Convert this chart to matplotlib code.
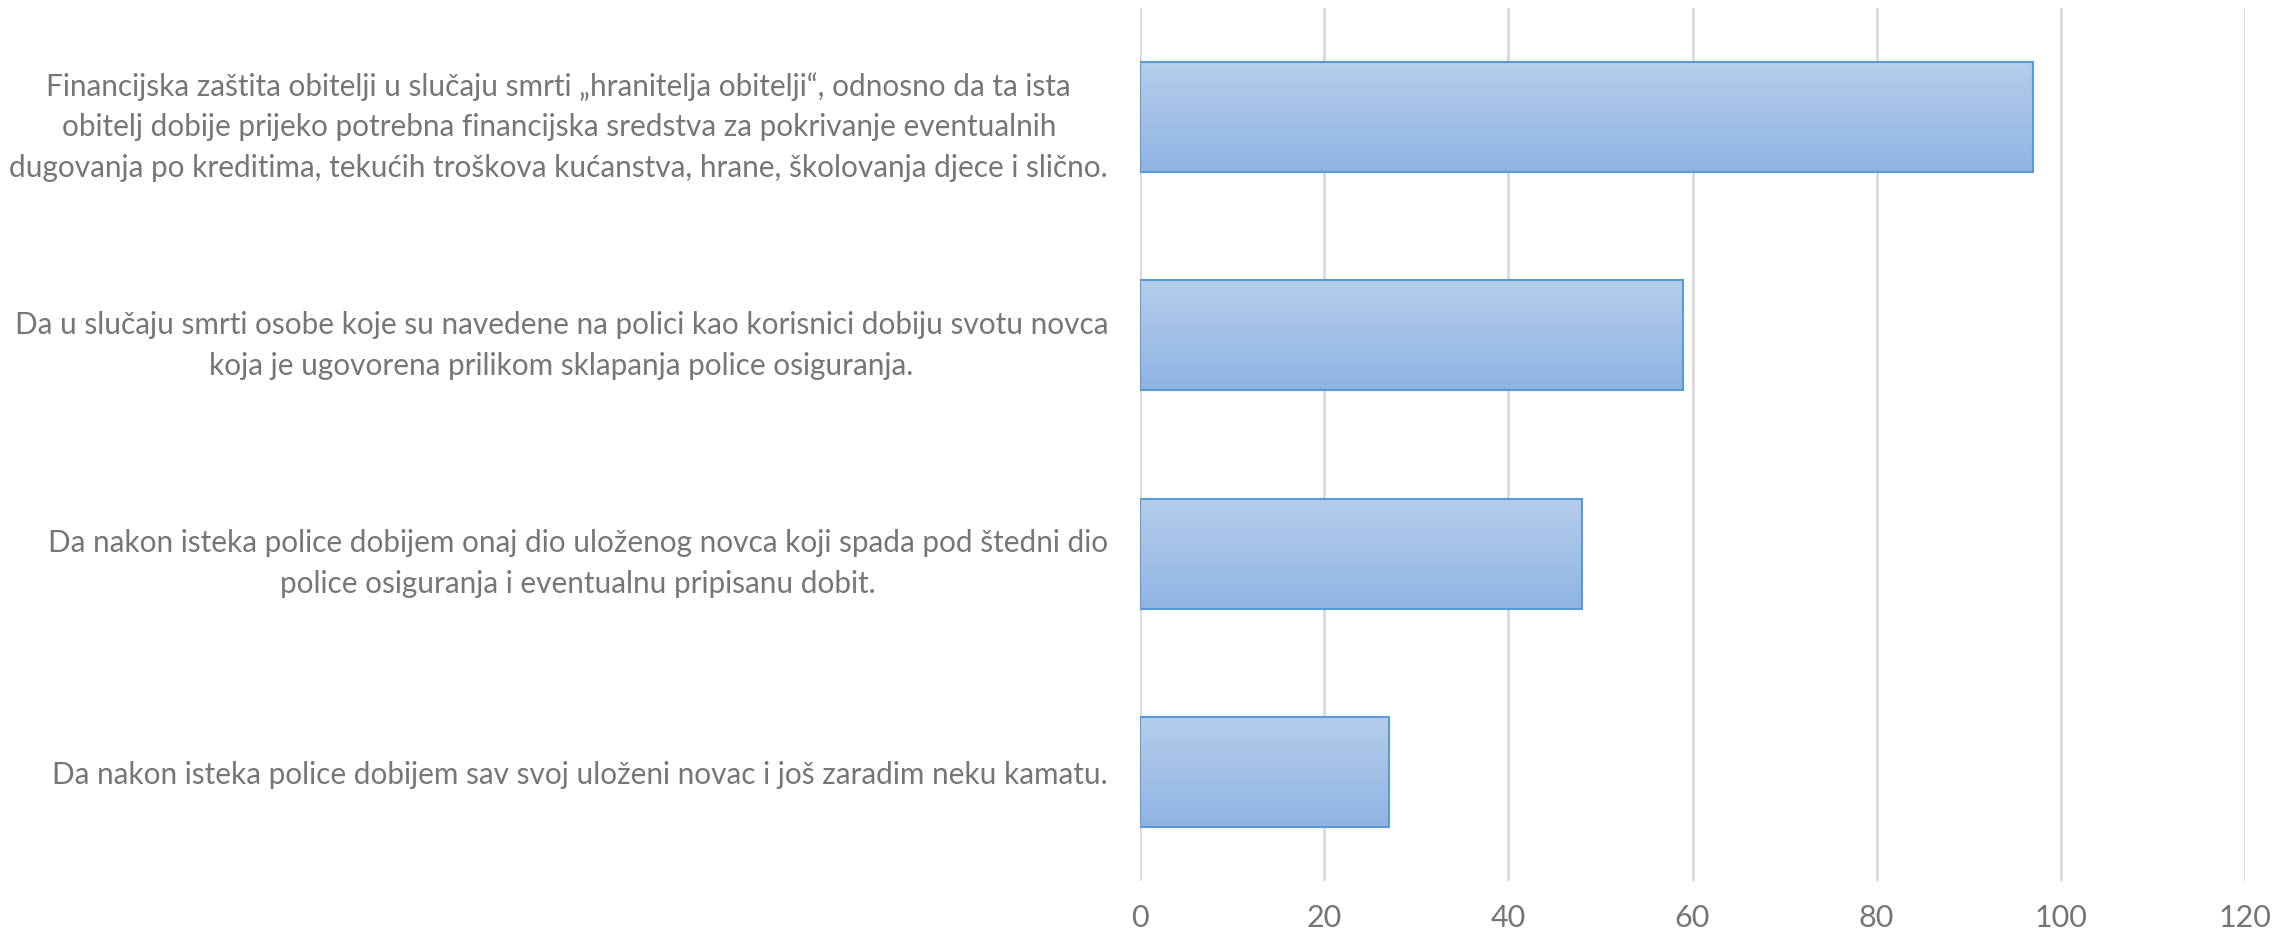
import numpy as np
import matplotlib.pyplot as plt
from matplotlib.colors import LinearSegmentedColormap

# Podaci
labels = [
    "Financijska zaštita obitelji u slučaju smrti „hranitelja obitelji“, odnosno da ta ista\n"
    "obitelj dobije prijeko potrebna financijska sredstva za pokrivanje eventualnih\n"
    "dugovanja po kreditima, tekućih troškova kućanstva, hrane, školovanja djece i slično.",
    "Da u slučaju smrti osobe koje su navedene na polici kao korisnici dobiju svotu novca\n"
    "koja je ugovorena prilikom sklapanja police osiguranja.",
    "Da nakon isteka police dobijem onaj dio uloženog novca koji spada pod štedni dio\n"
    "police osiguranja i eventualnu pripisanu dobit.",
    "Da nakon isteka police dobijem sav svoj uloženi novac i još zaradim neku kamatu.",
]
values = [97, 59, 48, 27]
xticks = [0, 20, 40, 60, 80, 100, 120]

plt.rcParams['font.family'] = ['Lato', 'DejaVu Sans']
text_color = '#767676'

fig = plt.figure(figsize=(22.74, 9.37), dpi=100)
ax = fig.add_axes([1140 / 2274, 1 - 882 / 937, (2245 - 1140) / 2274, (882 - 9) / 937])

y = np.arange(len(values))
bars = ax.barh(y, values, height=0.505, color='none', edgecolor='#5B9BD5', linewidth=1.5, zorder=3)

# Gradijent u stupcima
cmap = LinearSegmentedColormap.from_list('g', ['#B5CEEB', '#8FB4E2'])
grad = np.linspace(0, 1, 256).reshape(-1, 1)
for b in bars:
    x0, y0, w, h = b.get_x(), b.get_y(), b.get_width(), b.get_height()
    ax.imshow(grad, cmap=cmap, aspect='auto', extent=(x0, x0 + w, y0 + h, y0), zorder=2)

ax.set_xlim(0, 120)
ax.set_ylim(len(values) - 0.5, -0.5)
ax.set_xticks(xticks)
ax.set_xticklabels([str(t) for t in xticks])
ax.set_yticks(y)
ax.set_yticklabels(labels, linespacing=1.55)
for lab in ax.get_yticklabels():
    lab.set_multialignment('center')
ax.tick_params(axis='y', length=0, pad=23, labelsize=21.4, labelcolor=text_color)
ax.tick_params(axis='x', length=0, pad=16, labelsize=22, labelcolor=text_color)

ax.grid(axis='x', color='#D9D9D9', linewidth=2, zorder=0)
for s in ax.spines.values():
    s.set_visible(False)

fig.savefig('out.png', dpi=100)
